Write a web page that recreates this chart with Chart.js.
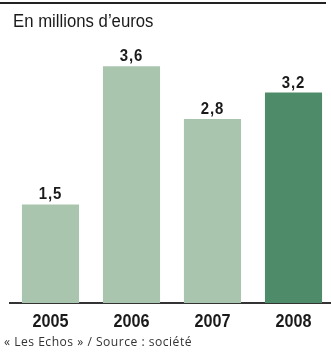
<!DOCTYPE html>
<html>
<head>
<meta charset="utf-8">
<script src="https://cdn.jsdelivr.net/npm/chart.js@4/dist/chart.umd.min.js"></script>
<style>
  html, body { margin: 0; padding: 0; background: #fff; overflow: hidden; }
  #wrap { position: relative; width: 334px; height: 352px; }
  #topline { position: absolute; left: 0; top: 2px; width: 326px; height: 2px; background: #222; }
</style>
</head>
<body>
<div id="wrap">
  <div id="topline"></div>
  <canvas id="chart" width="334" height="352"></canvas>
</div>
<script>
// revenue figures, millions of euros
const years = ['2005', '2006', '2007', '2008'];
const values = [1.5, 3.6, 2.8, 3.2];
const valueLabels = ['1,5', '3,6', '2,8', '3,2'];
const titleText = 'En millions d\u2019euros';
const sourceText = '\u00ab Les Echos \u00bb / Source : soci\u00e9t\u00e9';

const light = '#a9c5ad';
const dark = '#4e8b69';

// no condensed face installed, so squeeze the text horizontally
function narrowText(ctx, text, x, y, sx) {
  ctx.save();
  ctx.translate(x, y);
  ctx.scale(sx, 1);
  ctx.fillText(text, 0, 0);
  ctx.restore();
}

const textPlugin = {
  id: 'echosText',
  afterDatasetsDraw(chart) {
    const ctx = chart.ctx;
    const meta = chart.getDatasetMeta(0);
    const xScale = chart.scales.x;
    ctx.save();

    // title
    ctx.fillStyle = '#1a1a1a';
    ctx.textAlign = 'left';
    ctx.textBaseline = 'alphabetic';
    ctx.font = "18px 'Liberation Sans', Arial, sans-serif";
    narrowText(ctx, titleText, 13, 27, 0.93);

    // values on bars
    ctx.textAlign = 'center';
    ctx.font = "bold 17px 'Liberation Sans', Arial, sans-serif";
    ctx.letterSpacing = '1px';
    meta.data.forEach((bar, i) => {
      narrowText(ctx, valueLabels[i], bar.x, bar.y - 5, 0.88);
    });

    // year labels under the axis
    ctx.font = "bold 18px 'Liberation Sans', Arial, sans-serif";
    ctx.letterSpacing = '0px';
    chart.data.labels.forEach((lab, i) => {
      narrowText(ctx, lab, xScale.getPixelForTick(i), 327, 0.9);
    });

    // source line
    ctx.textAlign = 'left';
    ctx.fillStyle = '#333';
    ctx.font = "12.5px 'Open Sans', sans-serif";
    ctx.letterSpacing = '0.5px';
    narrowText(ctx, sourceText, 4, 346, 0.97);

    ctx.restore();
  }
};

const ctx = document.getElementById('chart').getContext('2d');
new Chart(ctx, {
  type: 'bar',
  data: {
    labels: years,
    datasets: [{
      data: values,
      backgroundColor: values.map((v, i) => i === values.length - 1 ? dark : light),
      borderWidth: 0,
      categoryPercentage: 1,
      barPercentage: 0.705
    }]
  },
  options: {
    responsive: false,
    animation: false,
    layout: { padding: { left: 10, right: 0, top: 40, bottom: 41 } },
    plugins: {
      legend: { display: false },
      tooltip: { enabled: false }
    },
    scales: {
      x: {
        grid: { display: false },
        border: { display: true, color: '#333', width: 2 },
        ticks: { display: false }
      },
      y: {
        display: false,
        min: 0,
        max: 4
      }
    }
  },
  plugins: [textPlugin]
});
</script>
</body>
</html>
